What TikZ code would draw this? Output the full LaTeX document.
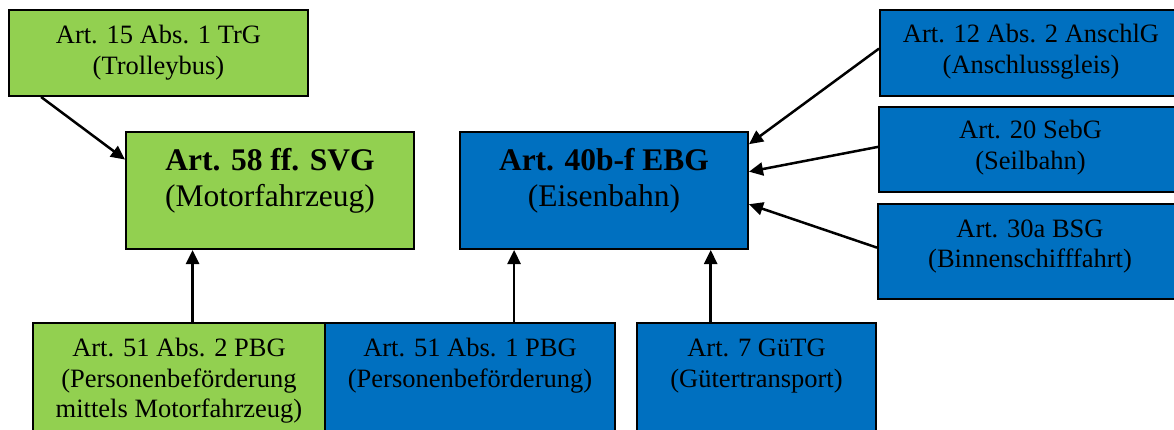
\documentclass[tikz,border=0pt]{standalone}
\usepackage{fontspec}
\setmainfont{Liberation Serif}
\usetikzlibrary{arrows.meta,calc}
\definecolor{lgreen}{RGB}{146,208,80}
\definecolor{mblue}{RGB}{0,112,192}
\newcommand\boxtext[2]{\raisebox{#1}[\height][\depth]{\begin{tabular}{@{}c@{}}#2\end{tabular}}}
\begin{document}
\begin{tikzpicture}[x=1pt,y=-1pt,
  box/.style={draw=black, line width=2pt, inner sep=0pt, rectangle, font=\fontsize{26.5}{30.5}\selectfont},
  greenbox/.style={box, fill=lgreen},
  bluebox/.style={box, fill=mblue},
  bigtext/.style={font=\fontsize{31.5}{36}\selectfont},
  conn/.style={line width=2.5pt, draw=black, -{Triangle[length=14pt,width=13pt]}}]
\useasboundingbox (0,0) rectangle (1174,430);
\clip (0,0) rectangle (1174,430);
% top-left
\node[greenbox, minimum width=299pt, minimum height=86pt] (trg) at (158.5,53)
  {\boxtext{0pt}{Art. 15 Abs. 1 TrG\\(Trolleybus)}};
\node[greenbox, bigtext, minimum width=288pt, minimum height=117pt] (svg) at (270,190.5)
  {\boxtext{9pt}{\textbf{Art. 58 ff. SVG}\\(Motorfahrzeug)}};
\node[bluebox, bigtext, minimum width=288pt, minimum height=117pt] (ebg) at (604,190.5)
  {\boxtext{9pt}{\textbf{Art. 40b-f EBG}\\(Eisenbahn)}};
% right column
\node[bluebox, minimum width=302pt, minimum height=86pt] (anschl) at (1031,53)
  {\boxtext{1pt}{Art. 12 Abs. 2 AnschlG\\(Anschlussgleis)}};
\node[bluebox, minimum width=303pt, minimum height=85pt] (seb) at (1030.5,149.5)
  {\boxtext{1.5pt}{Art. 20 SebG\\(Seilbahn)}};
\node[bluebox, minimum width=304pt, minimum height=95pt] (bsg) at (1030,251.5)
  {\boxtext{5pt}{Art. 30a BSG\\(Binnenschifffahrt)}};
% bottom row
\node[greenbox, minimum width=292pt, minimum height=116pt] (pbgz) at (179,381)
  {\boxtext{0pt}{Art. 51 Abs. 2 PBG\\(Personenbeförderung\\mittels Motorfahrzeug)}};
\node[bluebox, minimum width=290pt, minimum height=116pt] (pbge) at (470,381)
  {\boxtext{15pt}{Art. 51 Abs. 1 PBG\\(Personenbeförderung)}};
\node[bluebox, minimum width=239pt, minimum height=116pt] (gutg) at (756.5,381)
  {\boxtext{15pt}{Art. 7 GüTG\\(Gütertransport)}};
% connectors
\draw[conn] ($(trg.south west)!0.11!(trg.south east)$) -- ($(svg.north west)!0.24!(svg.south west)$);
\coordinate (a1) at ($(svg.south west)!0.233!(svg.south east)$);
\coordinate (a2) at ($(ebg.south west)!0.19!(ebg.south east)$);
\coordinate (a3) at ($(ebg.south west)!0.868!(ebg.south east)$);
\draw[conn] (pbgz.north -| a1) -- (a1);
\draw[conn] (pbge.north -| a2) -- (a2);
\draw[conn] (gutg.north -| a3) -- (a3);
\draw[conn] ($(anschl.north west)!0.45!(anschl.south west)$) -- ($(ebg.north east)!0.111!(ebg.south east)$);
\draw[conn] ($(seb.north west)!0.47!(seb.south west)$) -- ($(ebg.north east)!0.342!(ebg.south east)$);
\draw[conn] ($(bsg.north west)!0.46!(bsg.south west)$) -- ($(ebg.north east)!0.615!(ebg.south east)$);
\end{tikzpicture}
\end{document}
